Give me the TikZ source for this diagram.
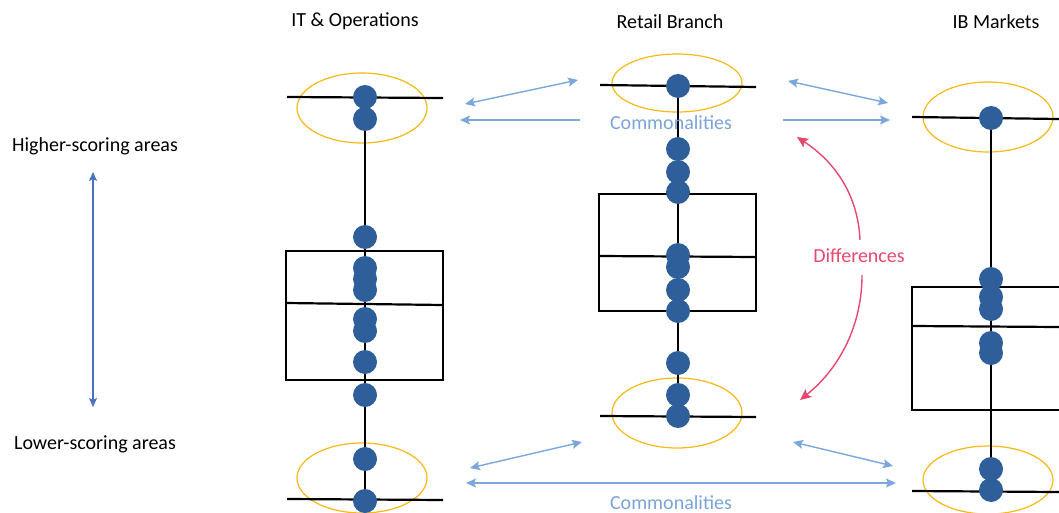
\documentclass[tikz,border=0pt]{standalone}
\usepackage{fontspec}
\setmainfont{Carlito}
\usetikzlibrary{arrows.meta}
\definecolor{dotblue}{HTML}{2E5F9A}
\definecolor{comblue}{HTML}{7BA7DC}
\definecolor{comtext}{HTML}{7BA3DA}
\definecolor{ellor}{HTML}{F6B915}
\definecolor{diffpink}{HTML}{E8486F}
\definecolor{axblue}{HTML}{4A72C0}
\begin{document}
\begin{tikzpicture}[x=1pt,y=-1pt,
  dot/.style={circle,fill=dotblue,minimum size=24pt,inner sep=0pt},
  blk/.style={line width=2.2pt,black},
  ell/.style={draw=ellor,line width=1.2pt},
  lbl/.style={font=\fontsize{20}{24}\selectfont,text=black,inner sep=0pt},
  comlbl/.style={font=\fontsize{20}{24}\selectfont,text=comtext,inner sep=0pt},
  difflbl/.style={font=\fontsize{20}{24}\selectfont,text=diffpink,inner sep=0pt},
  comarr/.style={comblue,line width=1.4pt,-{Stealth[length=10pt,width=9pt,inset=2pt]}},
  comdbl/.style={comblue,line width=1.4pt,{Stealth[length=10pt,width=9pt,inset=2pt]}-{Stealth[length=10pt,width=9pt,inset=2pt]}},
  diffarr/.style={diffpink,line width=1.4pt,-{Stealth[length=11pt,width=10pt,inset=2pt]}},
  axarr/.style={axblue,line width=1.3pt,{Stealth[length=9pt,width=8pt,inset=2pt]}-{Stealth[length=9pt,width=8pt,inset=2pt]}}]
\useasboundingbox (0,0) rectangle (1059,513);

% titles
\node[lbl] (t1) at (355,21) {IT \& Operations};
\node[lbl] (t2) at (670,22) {Retail Branch};
\node[lbl] (t3) at (996,22) {IB Markets};
\node[lbl] (hi) at (95,146) {Higher-scoring areas};
\node[lbl] (lo) at (95,444) {Lower-scoring areas};

% axis arrow
\coordinate (axtop) at (93,172);
\coordinate (axbot) at (93,407);
\draw[axarr] (axtop) -- (axbot);

% ellipses
\draw[ell] (362,108) ellipse [x radius=65, y radius=35];
\draw[ell] (362,478) ellipse [x radius=65, y radius=35];
\draw[ell] (677,83) ellipse [x radius=65, y radius=29];
\draw[ell] (677,413) ellipse [x radius=65, y radius=35];
\draw[ell] (988,117) ellipse [x radius=65, y radius=35];
\draw[ell] (988,480) ellipse [x radius=65, y radius=34];

% column 1
\draw[blk] (365,97) -- (365,500);
\draw[blk] (287,97) -- (443,98);
\draw[blk] (287,499) -- (443,500);
\draw[blk] (286,251) rectangle (443,380);
\draw[blk] (286,303) -- (443,305);
\foreach \y [count=\i] in {97,119,237,268,279,290,319,331,362,395,459,501}
  \node[dot] (a\i) at (365,\y) {};

% column 2
\draw[blk] (678,86) -- (678,416);
\draw[blk] (600,85) -- (756,87);
\draw[blk] (600,416) -- (756,417);
\draw[blk] (599,194) rectangle (756,311);
\draw[blk] (599,256) -- (756,257);
\foreach \y [count=\i] in {86,149,172,192,255,267,290,311,363,395,416}
  \node[dot] (b\i) at (678,\y) {};

% column 3
\draw[blk] (991,118) -- (991,491);
\draw[blk] (912,117) -- (1059,119);
\draw[blk] (912,491) -- (1059,492);
\draw[blk] (912,287) -- (1062,287);
\draw[blk] (912,410) -- (1062,410);
\draw[blk] (912,286) -- (912,411);
\draw[blk] (912,326) -- (1059,327);
\foreach \y [count=\i] in {118,279,297,309,343,353,469,490}
  \node[dot] (c\i) at (991,\y) {};

% commonalities top
\node[comlbl] (comtop) at (671,123) {Commonalities};
\coordinate (p1a) at (465,104);
\coordinate (p1b) at (578,80);
\draw[comdbl] (p1a) -- (p1b);
\coordinate (p2a) at (580,120);
\coordinate (p2b) at (460,120);
\draw[comarr] (p2a) -- (p2b);
\coordinate (p3a) at (788,81);
\coordinate (p3b) at (888,103);
\draw[comdbl] (p3a) -- (p3b);
\coordinate (p4a) at (783,120);
\coordinate (p4b) at (890,120);
\draw[comarr] (p4a) -- (p4b);

% commonalities bottom
\node[comlbl] (combot) at (671,503) {Commonalities};
\coordinate (q1a) at (470,468);
\coordinate (q1b) at (582,442);
\draw[comdbl] (q1a) -- (q1b);
\coordinate (q2a) at (466,483);
\coordinate (q2b) at (896,483);
\draw[comdbl] (q2a) -- (q2b);
\coordinate (q3a) at (793,442);
\coordinate (q3b) at (893,466);
\draw[comdbl] (q3a) -- (q3b);

% differences
\node[difflbl] (diff) at (859,256) {Differences};
\coordinate (d1a) at (860,240);
\coordinate (d1b) at (797,137);
\draw[diffarr] (d1a) .. controls (858,195) and (835,162) .. (d1b);
\coordinate (d2a) at (862,275);
\coordinate (d2b) at (800,400);
\draw[diffarr] (d2a) .. controls (862,325) and (840,368) .. (d2b);
\end{tikzpicture}
\end{document}
